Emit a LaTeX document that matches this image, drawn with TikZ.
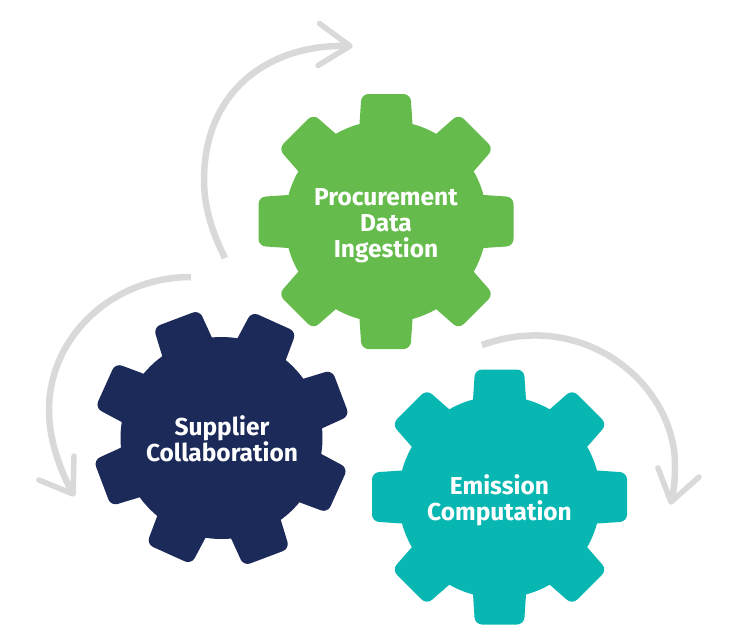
\documentclass[tikz,border=0pt]{standalone}
\usepackage{fontspec}
\setmainfont{Fira Sans}
\definecolor{gearGreen}{HTML}{65BC4C}
\definecolor{gearNavy}{HTML}{1B2A58}
\definecolor{gearTeal}{HTML}{09B7B2}
\definecolor{arrowGrey}{HTML}{D9D9D9}
\tikzset{
  gearlabel/.style={text=white,align=center,font=\bfseries\fontsize{24.5}{26}\selectfont,inner sep=0pt},
  cyclearrow/.style={draw=arrowGrey,line width=6.5pt,line cap=butt},
  arrowhead/.style={draw=arrowGrey,line width=5.5pt,line cap=round,line join=round}
}
\newcommand{\gearshape}[4]{%
  \fill[#4] (#1,#2) circle[radius=101];
  \foreach \k in {0,...,7}{
    \fill[#4,rounded corners=7pt,shift={(#1,#2)},rotate=#3+45*\k]
      (90,-27) -- (127.5,-24.5) -- (127.5,24.5) -- (90,27) -- cycle;
  }%
}
\begin{document}
\begin{tikzpicture}[x=1pt,y=-1pt]
\useasboundingbox (0,0) rectangle (730,625);
\fill[white] (0,0) rectangle (730,625);
\coordinate (a1s) at (225,258);
\coordinate (a1m) at (204,180);
\coordinate (a1e) at (350,46);
\draw[cyclearrow] (a1s) .. controls (212,232) and (204,207) .. (a1m) .. controls (204,90) and (270,43) .. (a1e);
\draw[arrowhead] (319.5,23.5) -- (a1e) -- (318,65.5);
\coordinate (a2s) at (191,277);
\coordinate (a2m) at (49,410);
\coordinate (a2e) at (73,494);
\draw[cyclearrow] (a2s) .. controls (112,277) and (49,337) .. (a2m) .. controls (49,440) and (60,470) .. (a2e);
\draw[arrowhead] (39,480) -- (a2e) -- (74,456);
\coordinate (a3s) at (482,345);
\coordinate (a3m) at (675,465);
\coordinate (a3e) at (671,502);
\draw[cyclearrow] (a3s) .. controls (585,308) and (675,385) .. (a3m) .. controls (675,480) and (674,490) .. (a3e);
\draw[arrowhead] (658,468) -- (a3e) -- (699,477);
\gearshape{386}{221.5}{0}{gearGreen}
\gearshape{221.5}{438}{20.7}{gearNavy}
\gearshape{499.5}{497}{0}{gearTeal}
\node[gearlabel] (procurement) at (386,225.5) {Procurement\\Data\\Ingestion};
\node[gearlabel] (supplier) at (222,439) {Supplier\\Collaboration};
\node[gearlabel] (emission) at (499.5,500.5) {Emission\\Computation};
\end{tikzpicture}
\end{document}
